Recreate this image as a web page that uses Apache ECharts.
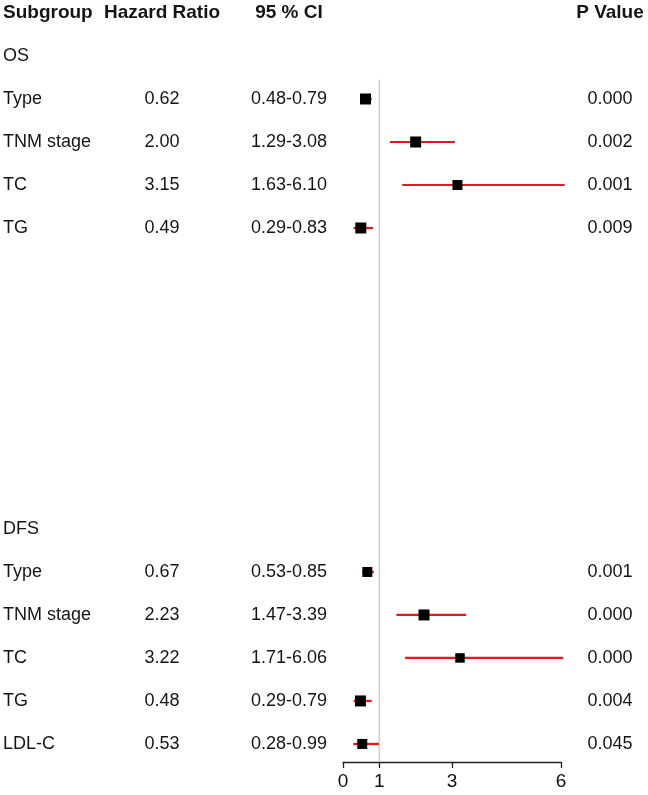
<!DOCTYPE html>
<html>
<head>
<meta charset="utf-8">
<script src="https://cdn.jsdelivr.net/npm/echarts@6/dist/echarts.min.js"></script>
<style>
html,body{margin:0;padding:0;background:#fff;}
#main{width:648px;height:795px;}
</style>
</head>
<body>
<div id="main"></div>
<script>
// ---- data ----
const headers = ['Subgroup', 'Hazard Ratio', '95 % CI', 'P Value'];
const groupLabels = ['OS', 'DFS'];
const groupRows = [1, 12];
const subgroups = ['Type', 'TNM stage', 'TC', 'TG', 'Type', 'TNM stage', 'TC', 'TG', 'LDL-C'];
const itemRows = [2, 3, 4, 5, 13, 14, 15, 16, 17];
const hazardRatio = [0.62, 2.00, 3.15, 0.49, 0.67, 2.23, 3.22, 0.48, 0.53];
const ciLower = [0.48, 1.29, 1.63, 0.29, 0.53, 1.47, 1.71, 0.29, 0.28];
const ciUpper = [0.79, 3.08, 6.10, 0.83, 0.85, 3.39, 6.06, 0.79, 0.99];
const pValues = ['0.000', '0.002', '0.001', '0.009', '0.001', '0.000', '0.000', '0.004', '0.045'];
const xTicks = [0, 1, 3, 6];
const refValue = 1;

// ---- style / layout ----
const boxSizes = [11, 11, 10, 11, 10, 11, 9.5, 11, 10];
const FONT = '"Liberation Sans", Arial, sans-serif';
const TEXT_COLOR = '#151515';
const colX = {sub: 3, hr: 162, ci: 289, p: 610};
const Y_MAX = 17.42;

const chart = echarts.init(document.getElementById('main'), null, {renderer: 'canvas'});

const forestData = hazardRatio.map((v, i) => [v, itemRows[i], ciLower[i], ciUpper[i], boxSizes[i]]);
const textData = subgroups.map((s, i) => [0, itemRows[i], i]);

function txt(x, y, s, align, bold, size) {
  return {
    type: 'text',
    style: {
      x: x, y: y, text: s, align: align, verticalAlign: 'middle',
      fill: TEXT_COLOR, font: (bold ? 'bold ' : '') + size + 'px ' + FONT
    }
  };
}

const option = {
  animation: false,
  backgroundColor: '#fff',
  grid: {left: 343, right: 87, top: 13, bottom: 33, containLabel: false},
  xAxis: {
    type: 'value', min: 0, max: 6,
    splitLine: {show: false},
    axisLine: {show: true, onZero: false, lineStyle: {color: '#222', width: 1.3}},
    axisTick: {show: true, inside: false, length: 6, customValues: xTicks, lineStyle: {color: '#222', width: 1.3}},
    axisLabel: {customValues: xTicks, color: '#111', fontSize: 19, fontFamily: FONT, margin: 10}
  },
  yAxis: {
    type: 'value', min: 0, max: Y_MAX, inverse: true, show: false
  },
  series: [
    {
      type: 'custom', name: 'ref', silent: true, clip: false,
      data: [[refValue, 1.55]],
      renderItem: function (params, api) {
        const a = api.coord([api.value(0), api.value(1)]);
        const b = api.coord([api.value(0), Y_MAX]);
        return {type: 'line', shape: {x1: a[0], y1: a[1], x2: b[0], y2: b[1]},
          style: {stroke: '#cfcfcf', lineWidth: 1.5}};
      }
    },
    {
      type: 'custom', name: 'forest', clip: false,
      data: forestData,
      renderItem: function (params, api) {
        const c = api.coord([api.value(0), api.value(1)]);
        const lo = api.coord([api.value(2), api.value(1)]);
        const hi = api.coord([api.value(3), api.value(1)]);
        const s = api.value(4);
        return {
          type: 'group',
          children: [
            {type: 'line', shape: {x1: lo[0], y1: lo[1], x2: hi[0], y2: hi[1]},
              style: {stroke: '#e8191c', lineWidth: 2.2}},
            {type: 'rect', shape: {x: c[0] - s / 2, y: c[1] - s / 2, width: s, height: s},
              style: {fill: '#000'}}
          ]
        };
      }
    },
    {
      type: 'custom', name: 'table', clip: false, silent: true,
      data: textData,
      renderItem: function (params, api) {
        const i = api.value(2);
        const y = api.coord([0, api.value(1)])[1];
        return {
          type: 'group',
          children: [
            txt(colX.sub, y, subgroups[i], 'left', false, 18),
            txt(colX.hr, y, hazardRatio[i].toFixed(2), 'center', false, 18),
            txt(colX.ci, y, ciLower[i].toFixed(2) + '-' + ciUpper[i].toFixed(2), 'center', false, 18),
            txt(colX.p, y, pValues[i], 'center', false, 18)
          ]
        };
      }
    },
    {
      type: 'custom', name: 'groups', clip: false, silent: true,
      data: groupLabels.map((g, i) => [0, groupRows[i], i]),
      renderItem: function (params, api) {
        const y = api.coord([0, api.value(1)])[1];
        return txt(colX.sub, y, groupLabels[api.value(2)], 'left', false, 18);
      }
    },
    {
      type: 'custom', name: 'header', clip: false, silent: true,
      data: [[0, 0]],
      renderItem: function (params, api) {
        const y = api.coord([0, 0])[1];
        return {
          type: 'group',
          children: [
            txt(colX.sub, y, headers[0], 'left', true, 19),
            txt(colX.hr, y, headers[1], 'center', true, 19),
            txt(colX.ci, y, headers[2], 'center', true, 19),
            txt(colX.p, y, headers[3], 'center', true, 19)
          ]
        };
      }
    }
  ]
};
chart.setOption(option);
</script>
</body>
</html>
